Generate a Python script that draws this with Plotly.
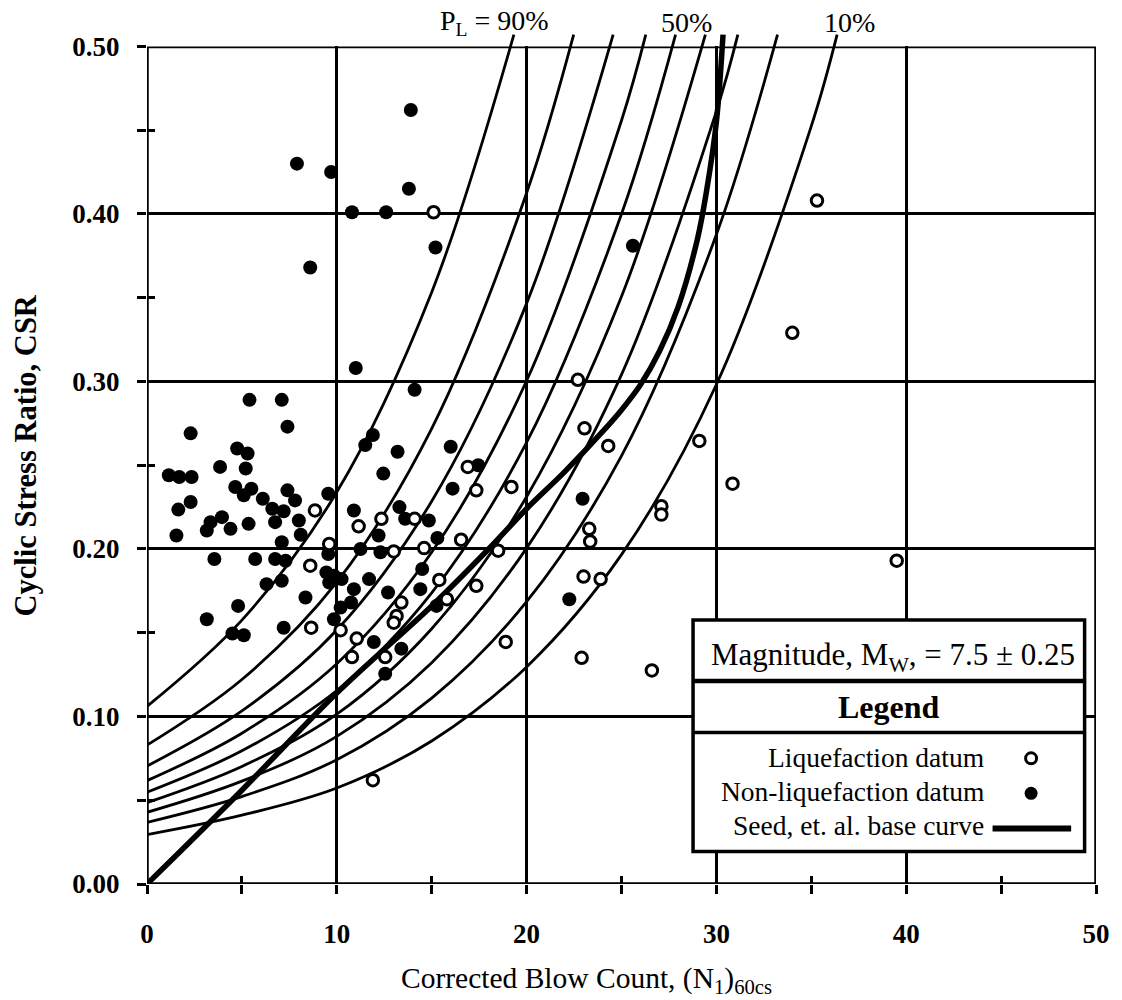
import plotly.graph_objects as go

# ---------------- data ----------------
# Liquefaction datum (open circles)
liq_n = [15.1, 35.3, 34.0, 22.7, 23.05, 24.3, 29.1, 16.9, 17.35, 19.2, 30.85, 27.1, 27.1,
         23.3, 23.35, 8.85, 12.35, 11.15, 14.1, 9.6, 13.0, 14.6, 16.55, 18.5, 8.6, 15.4,
         17.35, 23.0, 23.9, 15.8, 13.4, 13.15, 13.0, 8.65, 10.2, 11.05, 10.8, 12.55, 18.9,
         22.9, 26.6, 11.9, 39.5]
liq_csr = [0.401, 0.408, 0.329, 0.301, 0.272, 0.2615, 0.2645, 0.249, 0.235, 0.237, 0.239,
           0.2255, 0.2205, 0.212, 0.2045, 0.223, 0.218, 0.2135, 0.218, 0.203, 0.1985, 0.2005,
           0.2055, 0.199, 0.190, 0.1815, 0.178, 0.1835, 0.182, 0.170, 0.168, 0.160, 0.156,
           0.153, 0.1515, 0.1465, 0.1355, 0.1355, 0.1445, 0.135, 0.1275, 0.062, 0.193]

# Non-liquefaction datum (filled circles)
nonliq_n = [13.9, 7.9, 9.7, 13.8, 10.8, 12.6, 15.2, 8.6, 25.6, 11.0, 14.1, 5.4, 7.1, 7.4,
            2.3, 11.9, 11.5, 4.75, 5.3, 13.2, 16.0, 3.85, 5.2, 12.45, 17.45, 1.15, 1.7, 2.35,
            16.1, 4.65, 5.5, 5.1, 7.4, 7.8, 6.1, 9.55, 2.3, 1.65, 6.6, 7.2, 6.75, 8.0, 10.9,
            13.3, 13.6, 14.85, 3.95, 3.35, 3.15, 4.4, 5.35, 1.55, 8.1, 7.1, 12.2, 11.25, 12.3,
            15.3, 3.55, 5.7, 6.75, 7.3, 9.55, 9.45, 9.85, 9.6, 10.25, 11.7, 14.5, 6.3, 7.1,
            10.9, 12.7, 14.4, 8.35, 4.8, 10.2, 10.75, 9.85, 3.15, 7.2, 4.5, 5.1, 15.25, 11.95,
            12.55, 13.4, 22.95, 22.25]
nonliq_csr = [0.462, 0.430, 0.425, 0.415, 0.401, 0.401, 0.380, 0.368, 0.381, 0.308, 0.295,
              0.289, 0.289, 0.273, 0.269, 0.268, 0.262, 0.260, 0.257, 0.258, 0.261, 0.249,
              0.248, 0.245, 0.250, 0.244, 0.243, 0.243, 0.236, 0.237, 0.236, 0.232, 0.235,
              0.229, 0.230, 0.233, 0.228, 0.2235, 0.224, 0.2225, 0.216, 0.217, 0.223, 0.225,
              0.218, 0.217, 0.219, 0.216, 0.211, 0.212, 0.215, 0.208, 0.2085, 0.204, 0.208,
              0.200, 0.198, 0.2065, 0.194, 0.194, 0.194, 0.193, 0.197, 0.186, 0.184, 0.180,
              0.182, 0.182, 0.188, 0.179, 0.181, 0.176, 0.174, 0.176, 0.171, 0.166, 0.165,
              0.168, 0.158, 0.158, 0.153, 0.1495, 0.1485, 0.166, 0.1445, 0.1255, 0.1405,
              0.230, 0.170]

# Probability-of-liquefaction curves (P_L)
pl90_n = [0, 5, 10, 15, 19.33]
pl90_csr = [0.106, 0.1575, 0.234, 0.3533, 0.507]
pl80_n = [0, 5, 10, 15, 20, 22.48]
pl80_csr = [0.0829, 0.1221, 0.1802, 0.2719, 0.4125, 0.507]
pl70_n = [0, 5, 10, 15, 20, 24.56]
pl70_csr = [0.0704, 0.1033, 0.1516, 0.2285, 0.3466, 0.507]
pl60_n = [0, 5, 10, 15, 20, 25, 26.28]
pl60_csr = [0.0617, 0.090, 0.1315, 0.198, 0.3004, 0.4558, 0.507]
pl50_n = [0, 5, 10, 15, 20, 25, 27.85]
pl50_csr = [0.0548, 0.0795, 0.1155, 0.1738, 0.2636, 0.3999, 0.507]
pl40_n = [0, 5, 10, 15, 20, 25, 29.42]
pl40_csr = [0.0486, 0.0702, 0.1014, 0.1524, 0.2312, 0.3507, 0.507]
pl30_n = [0, 5, 10, 15, 20, 25, 30, 31.13]
pl30_csr = [0.0428, 0.0614, 0.0881, 0.1321, 0.2005, 0.3041, 0.4614, 0.507]
pl20_n = [0, 5, 10, 15, 20, 25, 30, 33.22]
pl20_csr = [0.0368, 0.0522, 0.0742, 0.111, 0.1685, 0.2556, 0.3877, 0.507]
pl10_n = [0, 5, 10, 15, 20, 25, 30, 35, 36.36]
pl10_csr = [0.0295, 0.0411, 0.0573, 0.0854, 0.1296, 0.1966, 0.2982, 0.4524, 0.507]

# Seed et al. base curve
seed_n = [0, 5, 10, 15, 18, 20, 22, 24, 25, 26, 27, 28, 29, 29.5, 30, 30.35]
seed_csr = [0, 0.056, 0.114, 0.166, 0.200, 0.224, 0.246, 0.270, 0.283, 0.298, 0.318,
            0.345, 0.385, 0.415, 0.455, 0.507]

# Axis ticks
x_ticks = [0, 10, 20, 30, 40, 50]
x_tick_text = ["0", "10", "20", "30", "40", "50"]
y_ticks = [0.0, 0.1, 0.2, 0.3, 0.4, 0.5]
y_tick_text = ["0.00", "0.10", "0.20", "0.30", "0.40", "0.50"]

# Curve labels above the frame
curve_label_text = ["P<sub>L</sub> = 90%", "50%", "10%"]
curve_label_n = [18.3, 28.45, 37.0]

# ---------------- figure ----------------
SERIF = "Liberation Serif"
Y_TOP = 0.508          # extent of the drawing area for the curves
Y_MAX = 0.5            # frame top

fig = go.Figure()

curves = [(pl90_n, pl90_csr), (pl80_n, pl80_csr), (pl70_n, pl70_csr), (pl60_n, pl60_csr),
          (pl50_n, pl50_csr), (pl40_n, pl40_csr), (pl30_n, pl30_csr), (pl20_n, pl20_csr),
          (pl10_n, pl10_csr)]
for cn, cc in curves:
    fig.add_trace(go.Scatter(x=cn, y=cc, mode="lines", xaxis="x3", yaxis="y3",
                             line=dict(color="black", width=2.8, shape="spline"),
                             showlegend=False, hoverinfo="skip"))

fig.add_trace(go.Scatter(x=seed_n, y=seed_csr, mode="lines", xaxis="x3", yaxis="y3",
                         line=dict(color="black", width=5.5, shape="spline"),
                         showlegend=False, hoverinfo="skip"))

fig.add_trace(go.Scatter(x=nonliq_n, y=nonliq_csr, mode="markers", xaxis="x3", yaxis="y3",
                         marker=dict(symbol="circle", size=14, color="black",
                                     line=dict(width=0)),
                         showlegend=False, hoverinfo="skip"))
fig.add_trace(go.Scatter(x=liq_n, y=liq_csr, mode="markers", xaxis="x3", yaxis="y3",
                         marker=dict(symbol="circle", size=11.5, color="white",
                                     line=dict(width=3, color="black")),
                         showlegend=False, hoverinfo="skip"))

# dummy traces to activate the grid subplot and the inner-tick subplot
fig.add_trace(go.Scatter(x=[None], y=[None], xaxis="x", yaxis="y", showlegend=False,
                         hoverinfo="skip"))
fig.add_trace(go.Scatter(x=[None], y=[None], xaxis="x2", yaxis="y2", showlegend=False,
                         hoverinfo="skip"))

tickfont = dict(family=SERIF, size=27, color="black", weight="bold")

fig.update_layout(
    width=1122, height=1000, autosize=False,
    margin=dict(l=147, r=20, t=33, b=116),
    paper_bgcolor="white", plot_bgcolor="rgba(0,0,0,0)",
    hovermode=False, showlegend=False,
    xaxis=dict(range=[0, 50], domain=[0, 1], anchor="y",
               tickmode="array", tickvals=x_ticks, ticktext=x_tick_text,
               ticks="outside", ticklen=9, tickwidth=2.5, tickcolor="black",
               minor=dict(tickmode="linear", tick0=0, dtick=5, ticks="outside",
                          ticklen=9, tickwidth=2.5, tickcolor="black", showgrid=False),
               showgrid=True, gridcolor="black", gridwidth=2.8,
               zeroline=False, showline=False, tickfont=tickfont,
               ticklabelstandoff=17),
    yaxis=dict(range=[0, Y_MAX], domain=[0, Y_MAX / Y_TOP], anchor="x",
               tickmode="array", tickvals=y_ticks, ticktext=y_tick_text,
               ticks="outside", ticklen=9, tickwidth=2.5, tickcolor="black",
               minor=dict(tickmode="linear", tick0=0, dtick=0.05, ticks="outside",
                          ticklen=9, tickwidth=2.5, tickcolor="black", showgrid=False),
               showgrid=True, gridcolor="black", gridwidth=2.8,
               zeroline=False, showline=False, tickfont=tickfont,
               ticklabelstandoff=12),
    xaxis2=dict(overlaying="x", anchor="y", range=[0, 50], side="bottom",
                tickmode="linear", tick0=0, dtick=5, ticks="inside", ticklen=8,
                tickwidth=2.5, tickcolor="black", showticklabels=False,
                showgrid=False, zeroline=False, showline=False),
    yaxis2=dict(overlaying="y", anchor="x", range=[0, Y_MAX], side="left",
                tickmode="linear", tick0=0, dtick=0.05, ticks="inside", ticklen=8,
                tickwidth=2.5, tickcolor="black", showticklabels=False,
                showgrid=False, zeroline=False, showline=False),
    xaxis3=dict(range=[0, 50], domain=[0, 1], anchor="y3", visible=False),
    yaxis3=dict(range=[0, Y_TOP], domain=[0, 1], anchor="x3", visible=False),
)

# frame
fig.add_shape(type="rect", xref="x", yref="y", x0=0, x1=50, y0=0, y1=Y_MAX,
              line=dict(color="black", width=3.5), fillcolor="rgba(0,0,0,0)", layer="above")

# legend box
fig.add_shape(type="rect", xref="x", yref="y", x0=28.77, x1=49.4, y0=0.0194, y1=0.1576,
              line=dict(color="black", width=3.5), fillcolor="white", layer="above")
fig.add_shape(type="line", xref="x", yref="y", x0=28.77, x1=49.4, y0=0.1212, y1=0.1212,
              line=dict(color="black", width=4.5), layer="above")
fig.add_shape(type="line", xref="x", yref="y", x0=28.77, x1=49.4, y0=0.0904, y1=0.0904,
              line=dict(color="black", width=3.5), layer="above")
# legend symbols
fig.add_shape(type="circle", xref="x", yref="y", xsizemode="pixel", ysizemode="pixel",
              xanchor=46.58, yanchor=0.0750, x0=-5.5, x1=5.5, y0=-5.5, y1=5.5,
              line=dict(color="black", width=3), fillcolor="white", layer="above")
fig.add_shape(type="circle", xref="x", yref="y", xsizemode="pixel", ysizemode="pixel",
              xanchor=46.58, yanchor=0.0541, x0=-6.5, x1=6.5, y0=-6.5, y1=6.5,
              line=dict(color="black", width=0), fillcolor="black", layer="above")
fig.add_shape(type="line", xref="x", yref="y", x0=44.55, x1=48.69, y0=0.0332, y1=0.0332,
              line=dict(color="black", width=6), layer="above")

ann_font = dict(family=SERIF, color="black")
fig.add_annotation(xref="x", yref="y", x=39.3, y=0.1355, showarrow=False,
                   text="Magnitude, M<sub>W</sub>, = 7.5 ± 0.25",
                   font=dict(ann_font, size=31), xanchor="center", yanchor="middle")
fig.add_annotation(xref="x", yref="y", x=39.1, y=0.1055, showarrow=False,
                   text="<b>Legend</b>", font=dict(ann_font, size=32),
                   xanchor="center", yanchor="middle")
fig.add_annotation(xref="x", yref="y", x=44.2, y=0.0755, showarrow=False,
                   text="Liquefaction datum", font=dict(ann_font, size=27.5),
                   xanchor="right", yanchor="middle")
fig.add_annotation(xref="x", yref="y", x=44.2, y=0.0555, showarrow=False,
                   text="Non-liquefaction datum", font=dict(ann_font, size=27.5),
                   xanchor="right", yanchor="middle")
fig.add_annotation(xref="x", yref="y", x=44.2, y=0.0352, showarrow=False,
                   text="Seed, et. al. base curve", font=dict(ann_font, size=27.5),
                   xanchor="right", yanchor="middle")

# curve labels above the frame
for t, n in zip(curve_label_text, curve_label_n):
    fig.add_annotation(xref="x", yref="paper", x=n, y=1.012, text=t, showarrow=False,
                       font=dict(ann_font, size=28), xanchor="center", yanchor="middle")

# axis titles
fig.add_annotation(xref="paper", yref="paper", x=0.4636, y=-0.113, showarrow=False,
                   text="Corrected Blow Count, (N<sub>1</sub>)<sub>60cs</sub>",
                   font=dict(ann_font, size=29.5), xanchor="center", yanchor="middle")
fig.add_annotation(xref="paper", yref="paper", x=-0.128, y=0.503, showarrow=False,
                   text="<b>Cyclic Stress Ratio, CSR</b>", textangle=-90,
                   font=dict(ann_font, size=30.5), xanchor="center", yanchor="middle")

fig.write_html("out.html", config={"displayModeBar": False},
               post_script="document.body.style.margin='0';")
